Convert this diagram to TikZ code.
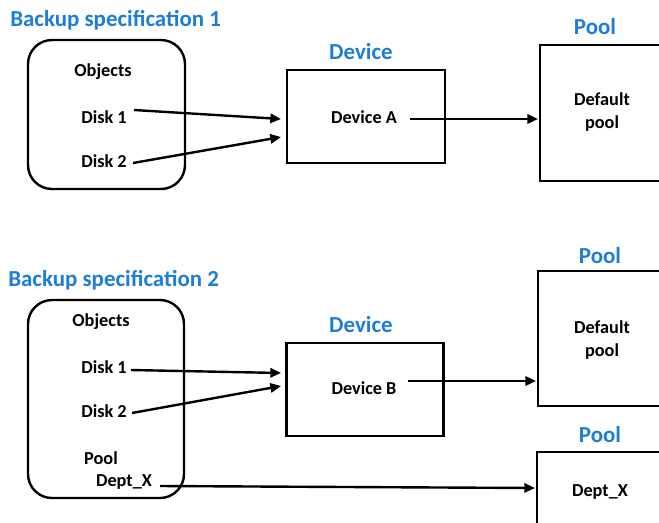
\documentclass[tikz,border=0pt]{standalone}
\usepackage{fontspec}
\setmainfont{Carlito}
\usetikzlibrary{arrows.meta}
\definecolor{hdrblue}{RGB}{30,125,215}
\tikzset{
  hdr/.style={font=\bfseries\fontsize{17.2}{19}\selectfont, text=hdrblue, inner sep=0pt},
  lbl/.style={font=\bfseries\fontsize{13.7}{17.5}\selectfont, inner sep=0pt, align=center},
  boxline/.style={draw=black, line width=1.8pt},
  conn/.style={line width=1.8pt, -{Triangle[length=8pt,width=7pt]}},
}
\begin{document}
\begin{tikzpicture}[x=0.75pt,y=-0.75pt]
\useasboundingbox (0,0) rectangle (659,522);
\clip (0,0) rectangle (659,522);
\fill[white] (0,0) rectangle (659,522);
% ---------- Specification 1 ----------
\node[hdr, anchor=west] (h1) at (10,20) {Backup specification 1};
\draw[boxline, rounded corners=18pt] (28,40) rectangle (185,189);
\node[lbl] (o1) at (103,72) {Objects};
\node[lbl] (d11) at (104,117) {Disk 1};
\node[lbl] (d12) at (104,161) {Disk 2};
\node[hdr] (dv1) at (361,52) {Device};
\node[boxline, minimum width=158*0.75pt, minimum height=93*0.75pt, inner sep=0pt] (devA) at (366,116.5) {};
\node[lbl] (devAt) at (364,117) {Device A};
\node[hdr] (p1) at (595,27) {Pool};
\draw[boxline] (540,45) rectangle (680,181);
\node[lbl] (dp1) at (602,112) {Default\\pool};
\coordinate (s11) at (134,110);
\coordinate (e11) at (281,119);
\coordinate (s12) at (133,163);
\coordinate (e12) at (281,137);
\coordinate (sA) at (410,119);
\coordinate (eA) at (538,119);
\draw[conn] (s11) -- (e11);
\draw[conn] (s12) -- (e12);
\draw[conn] (sA) -- (eA);
% ---------- Specification 2 ----------
\node[hdr, anchor=west] (h2) at (8,280) {Backup specification 2};
\draw[boxline, rounded corners=18pt] (28,300) rectangle (184,498);
\node[lbl] (o2) at (101,322) {Objects};
\node[lbl] (d21) at (104,367) {Disk 1};
\node[lbl] (d22) at (104,411) {Disk 2};
\node[lbl] (pl2) at (101,458) {Pool};
\node[lbl] (dx2) at (124,482) {Dept\_X};
\node[hdr] (dv2) at (361,325) {Device};
\node[boxline, minimum width=157*0.75pt, minimum height=93*0.75pt, inner sep=0pt] (devB) at (365,389.5) {};
\node[lbl] (devBt) at (364,388) {Device B};
\node[hdr] (p2) at (600,256) {Pool};
\draw[boxline] (538,271) rectangle (680,406);
\node[lbl] (dp2) at (602,340) {Default\\pool};
\node[hdr] (p3) at (600,435) {Pool};
\draw[boxline] (537,452) rectangle (680,540);
\node[lbl] (dx3) at (600,492) {Dept\_X};
\coordinate (s21) at (131,370);
\coordinate (e21) at (281,373);
\coordinate (s22) at (132,413);
\coordinate (e22) at (281,386);
\coordinate (sB) at (408,381);
\coordinate (eB) at (536,381);
\coordinate (sX) at (160,486);
\coordinate (eX) at (535,488);
\draw[conn] (s21) -- (e21);
\draw[conn] (s22) -- (e22);
\draw[conn] (sB) -- (eB);
\draw[conn] (sX) -- (eX);
\end{tikzpicture}
\end{document}
